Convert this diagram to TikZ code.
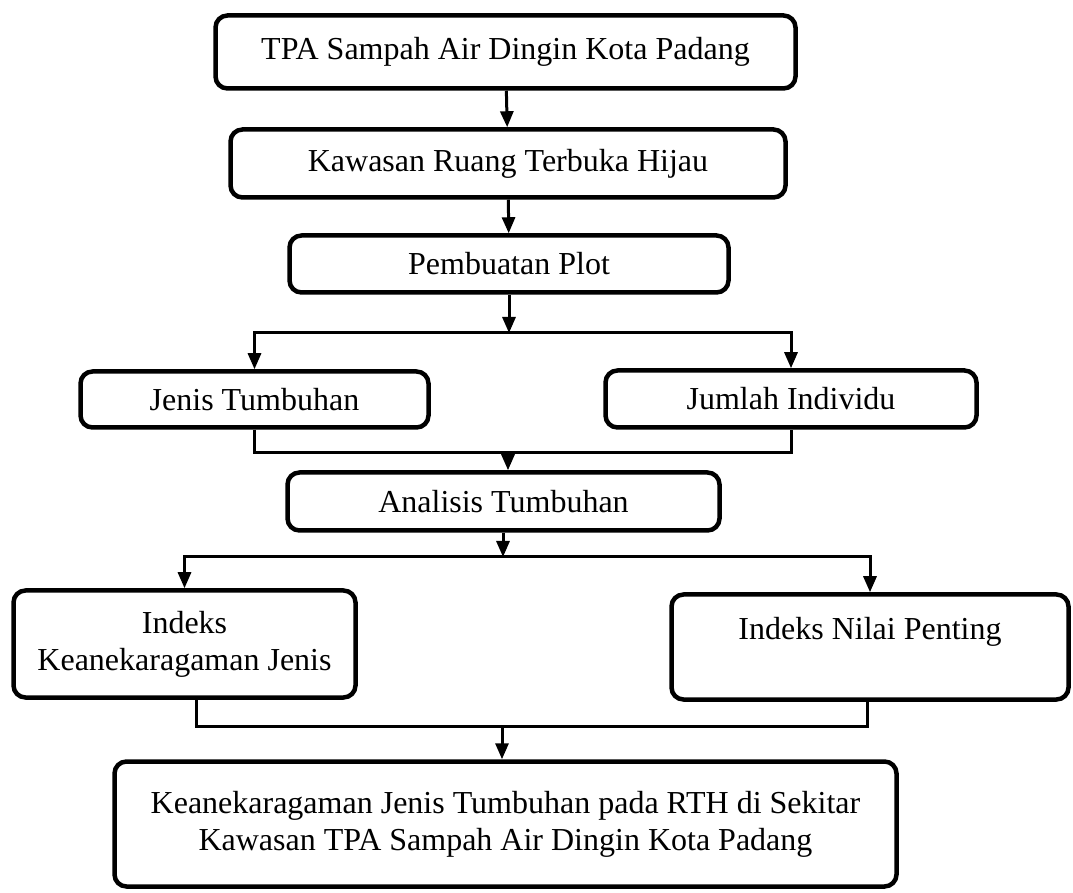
\documentclass[tikz,border=0pt]{standalone}
\usepackage{fontspec}
\setmainfont{Liberation Serif}
\usetikzlibrary{arrows.meta}
\definecolor{ink}{HTML}{000000}
\tikzset{
  flowbox/.style={rounded corners=12pt, draw=ink, line width=4.5pt, fill=white, align=center, inner sep=0pt, text=ink, font=\fontsize{32}{37}\selectfont},
  link/.style={draw=ink, line width=3pt},
  linkarrow/.style={link, -{Triangle[length=16pt, width=13pt]}}
}

\begin{document}
\begin{tikzpicture}[x=1pt,y=1pt]
\useasboundingbox (0,0) rectangle (1073,892);

\node[flowbox, minimum width=580pt, minimum height=73pt] (tpa) at (505.5,840) {TPA Sampah Air Dingin Kota Padang};
\node[flowbox, minimum width=555pt, minimum height=68pt] (rth) at (508,728.5) {Kawasan Ruang Terbuka Hijau};
\node[flowbox, minimum width=439pt, minimum height=57pt] (plot) at (509,628) {Pembuatan Plot};
\node[flowbox, minimum width=348pt, minimum height=56pt] (jenis) at (254.5,492.5) {Jenis Tumbuhan};
\node[flowbox, minimum width=371pt, minimum height=57pt] (jumlah) at (791,493) {Jumlah Individu};
\node[flowbox, minimum width=432pt, minimum height=58pt] (analisis) at (503.5,390.5) {Analisis Tumbuhan};
\node[flowbox, minimum width=342pt, minimum height=107pt] (ikj) at (184.5,248) {Indeks\\Keanekaragaman Jenis};
\node[flowbox, minimum width=397pt, minimum height=105pt] (inp) at (870,245) {Indeks Nilai Penting\\\mbox{}};
\node[flowbox, minimum width=782pt, minimum height=125pt] (hasil) at (505.5,68) {Keanekaragaman Jenis Tumbuhan pada RTH di Sekitar\\Kawasan TPA Sampah Air Dingin Kota Padang};

\coordinate (split1) at (509,559);
\coordinate (join1) at (508,439);
\coordinate (split2) at (503,335);
\coordinate (join2) at (502,166);

\draw[linkarrow] (tpa) -- (rth);
\draw[linkarrow] (rth) -- (plot);

\draw[linkarrow] (plot.south) -- (split1);
\draw[linkarrow] (split1) -| (jenis.north);
\draw[linkarrow] (split1) -| (jumlah.north);

\draw[link] (jenis.south) |- (join1) -| (jumlah.south);
\draw[linkarrow] (join1) -- (join1 |- analisis.north);

\draw[linkarrow] (analisis.south -| split2) -- (split2);
\draw[linkarrow] (split2) -| (ikj.north);
\draw[linkarrow] (split2) -| (inp.north);

\draw[link] ([xshift=12pt]ikj.south) |- (join2) -| ([xshift=-3pt]inp.south);
\draw[linkarrow] (join2) -- (join2 |- hasil.north);

\end{tikzpicture}
\end{document}
